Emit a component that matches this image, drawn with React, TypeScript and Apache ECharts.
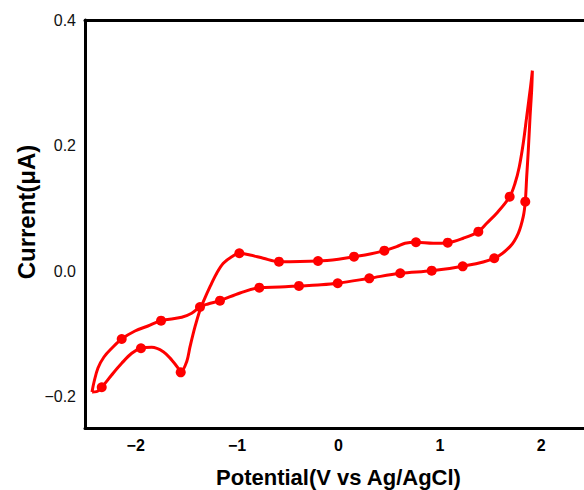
import React, { useEffect, useRef } from "react";
import * as echarts from "echarts";

// Cyclic voltammogram path (potential V, current µA), in scan order, closed loop
const cvPotential: number[] = [
  -2.431, -2.411, -2.372, -2.313, -2.234, -2.138, -2.007, -1.879, -1.75, -1.546, -1.448, -1.366,
  -1.287, -1.169, -0.971, -0.781, -0.577, -0.39, -0.202, -0.008, 0.304, 0.609, 0.919, 1.225, 1.536,
  1.691, 1.773, 1.822, 1.842, 1.856, 1.872, 1.889, 1.905, 1.912,
  1.895, 1.856, 1.822, 1.783, 1.741, 1.688, 1.56, 1.462, 1.379, 1.231, 1.077, 0.935, 0.764, 0.656,
  0.574, 0.452, 0.311, 0.153, 0.0, -0.202, -0.587, -0.742, -0.873, -0.978,
  -1.053, -1.136, -1.201, -1.267, -1.333, -1.366, -1.415, -1.464, -1.497, -1.556,
  -1.58, -1.645, -1.728, -1.842, -1.948, -2.039, -2.138, -2.237, -2.335, -2.385, -2.431,
];
const cvCurrent: number[] = [
  -0.1926, -0.1767, -0.1544, -0.1369, -0.1226, -0.1082, -0.0955, -0.0875, -0.079, -0.0736, -0.0672, -0.0572,
  -0.0524, -0.0471, -0.0349, -0.0264, -0.0253, -0.0237, -0.0221, -0.0194, -0.0115, -0.0035, 0.0006, 0.0076, 0.0204,
  0.0389, 0.0602, 0.0867, 0.1106, 0.1504, 0.1929, 0.246, 0.2885, 0.3193,
  0.295, 0.246, 0.2036, 0.1663, 0.1399, 0.1185, 0.0921, 0.0762, 0.0628, 0.0523, 0.0452, 0.0443, 0.0459, 0.0443,
  0.0389, 0.0325, 0.0272, 0.0229, 0.019, 0.0161, 0.015, 0.0204, 0.0256, 0.0284,
  0.0229, 0.0124, -0.0035, -0.0249, -0.0487, -0.062, -0.0886, -0.1204, -0.1443, -0.1613,
  -0.1549, -0.1416, -0.1284, -0.1214, -0.123, -0.131, -0.1469, -0.1655, -0.1851, -0.1921, -0.1926,
];

// Marked points
const markPotential: number[] = [
  -2.138, -1.75, -1.366, -0.978, -0.587, -0.202, 0.153, 0.452, 0.764, 1.077, 1.379, 1.688,
  -2.335, -1.948, -1.556, -1.169, -0.781, -0.39, -0.008, 0.304, 0.609, 0.919, 1.225, 1.536, 1.842,
];
const markCurrent: number[] = [
  -0.1082, -0.079, -0.0572, 0.0284, 0.015, 0.0161, 0.0229, 0.0325, 0.0459, 0.0452, 0.0628, 0.1185,
  -0.1851, -0.123, -0.1613, -0.0471, -0.0264, -0.0237, -0.0194, -0.0115, -0.0035, 0.0006, 0.0076, 0.0204, 0.1106,
];

const xTickLabels: number[] = [-2, -1, 0, 1, 2];
const yTickLabels: number[] = [-0.2, 0, 0.2, 0.4];

const FONT = '"Liberation Sans", Arial, Helvetica, sans-serif';

export default function App() {
  const ref = useRef<HTMLDivElement>(null);
  useEffect(() => {
    document.body.style.margin = "0";
    if (!ref.current) return;
    const chart = echarts.init(ref.current, undefined, { renderer: "svg" });
    const line = cvPotential.map((x, i) => [x, cvCurrent[i]]);
    const marks = markPotential.map((x, i) => [x, markCurrent[i]]);
    const isIn = (v: number, arr: number[]) => arr.some((t) => Math.abs(t - v) < 1e-6);
    chart.setOption({
      animation: false,
      grid: { left: 85, top: 20, width: 507, height: 408, outerBoundsMode: "none", containLabel: false },
      xAxis: [
        {
          type: "value",
          min: -2.5,
          max: 2.5,
          interval: 0.5,
          position: "bottom",
          splitLine: { show: false },
          axisTick: { show: false },
          axisLine: { show: true, onZero: false, lineStyle: { color: "#000", width: 3 } },
          axisLabel: {
            margin: 9,
            color: "#000",
            fontFamily: FONT,
            fontSize: 16,
            fontWeight: "bold",
            formatter: (v: number) => (isIn(v, xTickLabels) ? String(Math.round(v)).replace("-", "\u2212") : ""),
          },
          name: "Potential(V vs Ag/AgCl)",
          nameLocation: "middle",
          nameGap: 38,
          nameTextStyle: { color: "#000", fontFamily: FONT, fontSize: 22, fontWeight: "bold" },
        },
        {
          type: "value",
          min: -2.5,
          max: 2.5,
          position: "top",
          splitLine: { show: false },
          axisTick: { show: false },
          axisLabel: { show: false },
          axisLine: { show: true, onZero: false, lineStyle: { color: "#000", width: 3 } },
        },
      ],
      yAxis: {
        type: "value",
        min: -0.25,
        max: 0.4,
        interval: 0.05,
        splitLine: { show: false },
        axisTick: { show: false },
        axisLine: { show: true, onZero: false, lineStyle: { color: "#000", width: 3 } },
        axisLabel: {
          margin: 9,
          color: "#111",
          fontFamily: FONT,
          fontSize: 16,
          formatter: (v: number) => (isIn(v, yTickLabels) ? v.toFixed(1).replace("-", "\u2212") : ""),
        },
      },
      graphic: [
        {
          type: "text",
          x: 26,
          y: 212,
          rotation: Math.PI / 2,
          style: {
            text: "Current(\u03bcA)",
            fill: "#000",
            font: `bold 24px ${FONT}`,
            textAlign: "center",
            textVerticalAlign: "middle",
          },
        },
      ],
      series: [
        {
          type: "line",
          xAxisIndex: 0,
          data: line,
          smooth: 0.35,
          showSymbol: false,
          lineStyle: { color: "#ff0000", width: 3 },
          z: 2,
        },
        {
          type: "scatter",
          xAxisIndex: 0,
          data: marks,
          symbol: "circle",
          symbolSize: 10,
          itemStyle: { color: "#ff0000", opacity: 1 },
          z: 3,
        },
      ],
    });
    return () => chart.dispose();
  }, []);
  return <div ref={ref} style={{ width: 584, height: 490 }} />;
}
